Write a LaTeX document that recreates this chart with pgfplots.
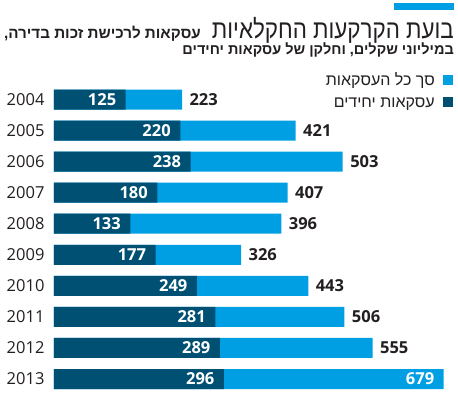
\documentclass[border=0pt]{standalone}
\usepackage{pgfplots}
\pgfplotsset{compat=1.18}
\usepackage{fontspec}
\setmainfont{Open Sans}
\newfontfamily\heb[Script=Hebrew]{Liberation Sans}
\TeXXeTstate=1
\definecolor{lb}{RGB}{0,159,227}
\definecolor{db}{RGB}{0,80,115}
\definecolor{tx}{RGB}{35,31,32}
\begin{document}
\begin{tikzpicture}
\useasboundingbox (0pt,0pt) rectangle (458pt,-394pt);
\fill[lb] (394pt,-3pt) rectangle (454pt,-10pt);
\node[anchor=base east, inner sep=0, text=tx, xscale=0.86, transform shape] at (454pt,-38pt) {\heb\fontsize{26}{30}\selectfont\beginR בועת הקרקעות החקלאיות\endR};
\node[anchor=base east, inner sep=0, text=tx] at (201pt,-38pt) {\heb\fontsize{15.2}{18}\selectfont\bfseries\beginR עסקאות לרכישת זכות בדירה,\endR};
\node[anchor=base east, inner sep=0, text=tx] at (454pt,-54pt) {\heb\fontsize{14.5}{18}\selectfont\bfseries\beginR במיליוני שקלים, וחלקן של עסקאות יחידים\endR};
\fill[lb] (443pt,-75pt) rectangle (453pt,-85pt);
\node[anchor=base east, inner sep=0, text=tx] at (435pt,-85pt) {\heb\fontsize{16}{20}\selectfont\beginR סך כל העסקאות\endR};
\fill[db] (443pt,-97pt) rectangle (453pt,-107pt);
\node[anchor=base east, inner sep=0, text=tx] at (435pt,-107pt) {\heb\fontsize{16}{20}\selectfont\beginR עסקאות יחידים\endR};
\begin{axis}[at={(54pt,-99.5pt)}, anchor=origin, scale only axis,
  width=401.8pt, height=310.6pt, xmin=0, xmax=700, ymin=-0.5, ymax=9.5,
  y dir=reverse, xbar, bar width=20pt, bar shift=0pt,
  axis line style={draw=none}, xtick=\empty, ytick={0,1,2,3,4,5,6,7,8,9},
  yticklabels={2004,2005,2006,2007,2008,2009,2010,2011,2012,2013},
  major tick length=0pt, clip=false,
  yticklabel style={font=\fontsize{16.5}{19}\selectfont, text=tx, xshift=-6pt},
  /pgf/number format/assume math mode=true,
  /pgf/number format/set thousands separator={}]
\addplot[fill=lb, draw=none] coordinates {(223,0) (421,1) (503,2) (407,3) (396,4) (326,5) (443,6) (506,7) (555,8) (679,9)};
\addplot[fill=db, draw=none, nodes near coords,
  every node near coord/.append style={anchor=east, text=white, font=\bfseries\fontsize{16.5}{19}\selectfont, xshift=-6pt}]
  coordinates {(125,0) (220,1) (238,2) (180,3) (133,4) (177,5) (249,6) (281,7) (289,8) (296,9)};
\addplot[draw=none, fill=none, nodes near coords,
  every node near coord/.append style={anchor=west, text=tx, font=\bfseries\fontsize{16.5}{19}\selectfont, xshift=4pt}]
  coordinates {(223,0) (421,1) (503,2) (407,3) (396,4) (326,5) (443,6) (506,7) (555,8)};
\addplot[draw=none, fill=none, nodes near coords,
  every node near coord/.append style={anchor=east, text=white, font=\bfseries\fontsize{16.5}{19}\selectfont, xshift=-6pt}]
  coordinates {(679,9)};
\end{axis}
\end{tikzpicture}
\end{document}
